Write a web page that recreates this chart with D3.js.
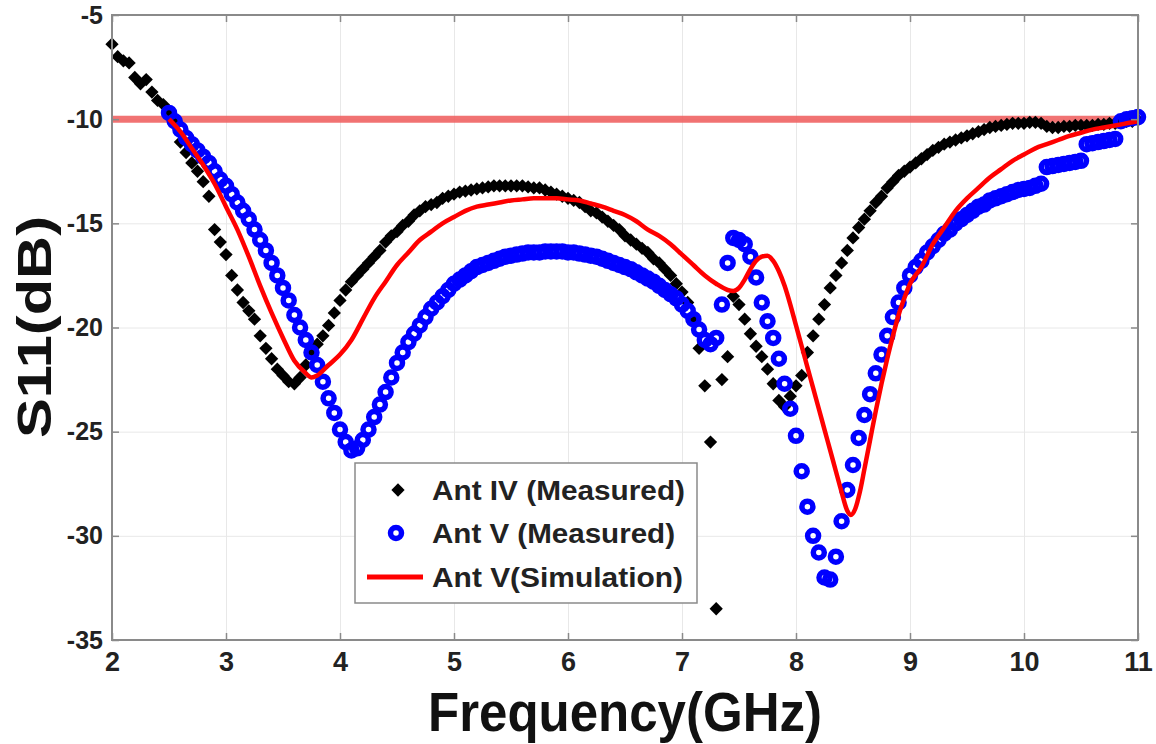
<!DOCTYPE html>
<html>
<head>
<meta charset="utf-8">
<script src="https://cdn.jsdelivr.net/npm/d3@7"></script>
<style>
  html, body { margin: 0; padding: 0; background: #fff; }
  svg { display: block; font-family: "Liberation Sans", Arial, sans-serif; }
</style>
</head>
<body>
<svg id="chart" width="1156" height="744"></svg>
<script>
// ---------------- data ----------------
const xTicks = [2, 3, 4, 5, 6, 7, 8, 9, 10, 11];
const yTicks = [-35, -30, -25, -20, -15, -10, -5];
const threshold = -10;

// measurement frequency grid (GHz)
const freq = [
  2.00,2.05,2.10,2.15,2.20,2.25,2.30,2.35,2.40,2.45,2.50,2.55,2.60,2.65,2.70,2.75,2.80,2.85,2.90,2.95,
  3.00,3.05,3.10,3.15,3.20,3.25,3.30,3.35,3.40,3.45,3.50,3.55,3.60,3.65,3.70,3.75,3.80,3.85,3.90,3.95,
  4.00,4.05,4.10,4.15,4.20,4.25,4.30,4.35,4.40,4.45,4.50,4.55,4.60,4.65,4.70,4.75,4.80,4.85,4.90,4.95,
  5.00,5.05,5.10,5.15,5.20,5.25,5.30,5.35,5.40,5.45,5.50,5.55,5.60,5.65,5.70,5.75,5.80,5.85,5.90,5.95,
  6.00,6.05,6.10,6.15,6.20,6.25,6.30,6.35,6.40,6.45,6.50,6.55,6.60,6.65,6.70,6.75,6.80,6.85,6.90,6.95,
  7.00,7.05,7.10,7.15,7.20,7.25,7.30,7.35,7.40,7.45,7.50,7.55,7.60,7.65,7.70,7.75,7.80,7.85,7.90,7.95,
  8.00,8.05,8.10,8.15,8.20,8.25,8.30,8.35,8.40,8.45,8.50,8.55,8.60,8.65,8.70,8.75,8.80,8.85,8.90,8.95,
  9.00,9.05,9.10,9.15,9.20,9.25,9.30,9.35,9.40,9.45,9.50,9.55,9.60,9.65,9.70,9.75,9.80,9.85,9.90,9.95,
  10.00,10.05,10.10,10.15,10.20,10.25,10.30,10.35,10.40,10.45,10.50,10.55,10.60,10.65,10.70,10.75,10.80,10.85,10.90,10.95,
  11.00
];

// Ant IV (Measured), 2.00 - 11.00 GHz
const antIV = [
  -6.4,-7.0,-7.2,-7.3,-8.0,-8.3,-8.1,-8.7,-9.1,-9.3,-9.6,-10.1,-11.1,-11.6,-12.1,-12.5,-13.0,-13.7,-15.3,-15.9,
  -16.5,-17.5,-18.2,-18.8,-19.2,-19.6,-20.4,-21.0,-21.5,-22.0,-22.3,-22.6,-22.7,-22.4,-21.8,-21.2,-20.8,-20.4,-19.9,-19.3,
  -18.7,-18.2,-17.8,-17.5,-17.2,-16.9,-16.6,-16.3,-15.9,-15.6,-15.4,-15.1,-14.9,-14.6,-14.4,-14.2,-14.1,-14.0,-13.8,-13.7,
  -13.6,-13.5,-13.45,-13.4,-13.35,-13.3,-13.25,-13.2,-13.2,-13.2,-13.2,-13.2,-13.2,-13.25,-13.3,-13.3,-13.4,-13.5,-13.6,-13.7,
  -13.8,-13.9,-14.0,-14.2,-14.4,-14.5,-14.7,-14.9,-15.1,-15.3,-15.6,-15.8,-16.0,-16.2,-16.4,-16.7,-16.9,-17.2,-17.5,-17.9,
  -18.3,-18.8,-19.6,-21.0,-22.8,-25.5,-33.5,-22.5,-21.4,-18.5,-18.9,-19.6,-20.3,-20.9,-21.4,-22.0,-22.7,-23.5,-23.8,-23.3,
  -22.8,-22.3,-21.2,-20.4,-19.6,-18.9,-18.1,-17.5,-16.9,-16.3,-15.7,-15.2,-14.8,-14.4,-14.0,-13.7,-13.3,-13.0,-12.7,-12.5,
  -12.3,-12.1,-11.9,-11.7,-11.5,-11.35,-11.2,-11.1,-11.0,-10.9,-10.8,-10.7,-10.6,-10.5,-10.4,-10.35,-10.3,-10.25,-10.2,-10.2,
  -10.2,-10.15,-10.15,-10.2,-10.35,-10.4,-10.4,-10.35,-10.35,-10.3,-10.3,-10.3,-10.3,-10.25,-10.25,-10.2,-10.2,-10.15,-10.1,-10.1,
  -10.05
];

// Ant V (Measured), 2.50 - 11.00 GHz
const antVFreq = freq.slice(10);
const antV = [
  -9.7,-10.1,-10.5,-10.9,-11.2,-11.5,-11.8,-12.1,-12.5,-12.9,
  -13.2,-13.6,-14.0,-14.4,-14.8,-15.3,-15.8,-16.3,-16.9,-17.5,-18.1,-18.7,-19.4,-20.0,-20.6,-21.2,-21.8,-22.6,-23.4,-24.1,
  -24.9,-25.5,-25.9,-25.8,-25.4,-24.9,-24.3,-23.7,-23.1,-22.4,-21.7,-21.2,-20.7,-20.3,-19.9,-19.5,-19.1,-18.8,-18.5,-18.2,
  -17.9,-17.7,-17.5,-17.3,-17.1,-17.0,-16.9,-16.8,-16.7,-16.6,-16.55,-16.5,-16.45,-16.4,-16.4,-16.4,-16.35,-16.35,-16.35,-16.35,
  -16.4,-16.4,-16.45,-16.5,-16.55,-16.6,-16.7,-16.8,-16.9,-17.0,-17.1,-17.2,-17.35,-17.5,-17.65,-17.8,-18.0,-18.2,-18.4,-18.6,
  -18.9,-19.2,-19.6,-20.1,-20.6,-20.8,-20.5,-18.9,-16.9,-15.7,-15.8,-16.0,-16.6,-17.6,-18.8,-19.7,-20.5,-21.5,-22.7,-23.9,
  -25.2,-26.9,-28.6,-30.0,-30.8,-32.0,-32.1,-31.0,-29.3,-27.8,-26.6,-25.3,-24.2,-23.2,-22.2,-21.3,-20.4,-19.5,-18.8,-18.1,
  -17.5,-17.1,-16.8,-16.4,-16.1,-15.8,-15.5,-15.3,-15.0,-14.8,-14.6,-14.4,-14.2,-14.1,-13.9,-13.8,-13.7,-13.6,-13.5,-13.4,
  -13.35,-13.3,-13.2,-13.1,-12.3,-12.25,-12.2,-12.15,-12.1,-12.05,-12.0,-11.2,-11.15,-11.1,-11.05,-11.0,-10.95,-10.1,-10.0,-9.95,
  -9.9
];

// Ant V (Simulation)
const simFreq = [
  2.50,2.60,2.70,2.80,2.90,3.00,3.10,3.20,3.30,3.40,3.50,3.60,3.70,3.75,3.80,3.90,4.00,4.10,4.20,4.30,
  4.40,4.50,4.60,4.70,4.80,4.90,5.00,5.10,5.20,5.30,5.40,5.50,5.60,5.70,5.80,5.90,6.00,6.10,6.20,6.30,
  6.40,6.50,6.60,6.70,6.80,6.90,7.00,7.10,7.20,7.30,7.40,7.45,7.50,7.55,7.60,7.65,7.70,7.75,7.80,7.85,
  7.90,7.95,8.00,8.05,8.10,8.15,8.20,8.25,8.30,8.35,8.40,8.45,8.48,8.52,8.56,8.60,8.65,8.70,8.75,8.80,
  8.85,8.90,8.95,9.00,9.10,9.20,9.30,9.40,9.50,9.60,9.70,9.80,9.90,10.00,10.10,10.20,10.30,10.40,10.50,10.60,
  10.70,10.80,10.90,11.00
];
const simV = [
  -10.0,-10.6,-11.4,-12.2,-13.1,-14.2,-15.3,-16.6,-18.0,-19.3,-20.5,-21.6,-22.2,-22.4,-22.3,-21.8,-21.3,-20.6,-19.6,-18.6,
  -17.8,-17.0,-16.4,-15.8,-15.4,-15.0,-14.7,-14.4,-14.2,-14.1,-14.0,-13.9,-13.85,-13.8,-13.8,-13.8,-13.85,-13.9,-14.05,-14.2,
  -14.4,-14.6,-14.9,-15.3,-15.6,-16.0,-16.5,-17.0,-17.5,-17.9,-18.2,-18.25,-18.1,-17.7,-17.2,-16.8,-16.6,-16.55,-16.8,-17.3,
  -18.0,-18.9,-19.9,-20.9,-21.9,-22.9,-23.9,-24.9,-25.9,-26.9,-27.9,-28.8,-29.0,-28.7,-27.9,-26.8,-25.4,-24.0,-22.7,-21.5,
  -20.4,-19.4,-18.6,-17.9,-17.1,-16.0,-15.2,-14.4,-13.8,-13.3,-12.8,-12.4,-12.0,-11.7,-11.4,-11.2,-11.0,-10.8,-10.65,-10.5,
  -10.4,-10.3,-10.2,-10.1
];

const legendLabels = ["Ant IV (Measured)", "Ant V (Measured)", "Ant V(Simulation)"];

// ---------------- drawing ----------------
const svg = d3.select("#chart");
const L = 112, R = 1138, T = 15, B = 640;
const x = d3.scaleLinear().domain([2, 11]).range([L, R]);
const y = d3.scaleLinear().domain([-35, -5]).range([B, T]);
const fmt = d => String(d);   // plain hyphen-minus like the reference

// grid
svg.append("g").attr("transform", `translate(0,${B})`)
  .call(d3.axisBottom(x).tickValues(xTicks).tickSize(-(B - T)).tickFormat(""))
  .call(g => g.select(".domain").remove())
  .call(g => g.selectAll("line").attr("stroke", "#e8e8e8").attr("stroke-width", 1));
svg.append("g").attr("transform", `translate(${L},0)`)
  .call(d3.axisLeft(y).tickValues(yTicks).tickSize(-(R - L)).tickFormat(""))
  .call(g => g.select(".domain").remove())
  .call(g => g.selectAll("line").attr("stroke", "#e8e8e8").attr("stroke-width", 1));

// -10 dB reference line
svg.append("line")
  .attr("x1", x(2)).attr("x2", x(11))
  .attr("y1", y(threshold)).attr("y2", y(threshold))
  .attr("stroke", "#f06464").attr("stroke-width", 7).attr("opacity", 0.9);

// Ant IV measured: black diamonds
const diamond = d3.symbol().type(d3.symbolSquare).size(88);
svg.append("g").selectAll("path")
  .data(freq.map((f, i) => [f, antIV[i]]))
  .join("path")
  .attr("d", diamond)
  .attr("transform", d => `translate(${x(d[0])},${y(d[1])}) rotate(45)`)
  .attr("fill", "#000");

// Ant V measured: blue circles
svg.append("g").selectAll("circle")
  .data(antVFreq.map((f, i) => [f, antV[i]]))
  .join("circle")
  .attr("cx", d => x(d[0])).attr("cy", d => y(d[1]))
  .attr("r", 5.5)
  .attr("fill", "none")
  .attr("stroke", "#0000ff").attr("stroke-width", 5.5);

// Ant V simulation: red line
const line = d3.line().x(d => x(d[0])).y(d => y(d[1])).curve(d3.curveMonotoneX);
svg.append("path")
  .datum(simFreq.map((f, i) => [f, simV[i]]))
  .attr("d", line)
  .attr("fill", "none").attr("stroke", "#ff0000").attr("stroke-width", 4.5)
  .attr("stroke-linejoin", "round");

// frame
svg.append("rect").attr("x", L).attr("y", T).attr("width", R - L).attr("height", B - T)
  .attr("fill", "none").attr("stroke", "#8a8a8a").attr("stroke-width", 2);

// axes (inward ticks)
const axisStyle = g => {
  g.select(".domain").remove();
  g.selectAll("line").attr("stroke", "#8a8a8a").attr("stroke-width", 1.5);
};
svg.append("g").attr("transform", `translate(0,${B})`)
  .call(d3.axisBottom(x).tickValues(xTicks).tickSize(-7).tickPadding(12).tickFormat(fmt))
  .call(axisStyle)
  .call(g => g.selectAll("text").attr("font-size", 27).attr("font-weight", "bold").attr("fill", "#222")
    .attr("font-family", "Liberation Sans, Arial, sans-serif"));
svg.append("g").attr("transform", `translate(0,${T})`)
  .call(d3.axisTop(x).tickValues(xTicks).tickSize(-7).tickFormat(""))
  .call(axisStyle);
svg.append("g").attr("transform", `translate(${L},0)`)
  .call(d3.axisLeft(y).tickValues(yTicks).tickSize(-7).tickPadding(9).tickFormat(fmt))
  .call(axisStyle)
  .call(g => g.selectAll("text").attr("font-size", 25).attr("font-weight", "bold").attr("fill", "#222")
    .attr("font-family", "Liberation Sans, Arial, sans-serif"));
svg.append("g").attr("transform", `translate(${R},0)`)
  .call(d3.axisRight(y).tickValues(yTicks).tickSize(-7).tickFormat(""))
  .call(axisStyle);

// axis titles
svg.append("text")
  .attr("x", 625).attr("y", 731)
  .attr("text-anchor", "middle")
  .attr("font-size", 55).attr("font-weight", "bold").attr("fill", "#111")
  .attr("textLength", 394).attr("lengthAdjust", "spacingAndGlyphs")
  .text("Frequency(GHz)");
svg.append("text")
  .attr("transform", "translate(51,327) rotate(-90)")
  .attr("text-anchor", "middle")
  .attr("font-size", 49).attr("font-weight", "bold").attr("fill", "#111")
  .attr("textLength", 222).attr("lengthAdjust", "spacingAndGlyphs")
  .text("S11(dB)");

// legend
const lg = svg.append("g");
lg.append("rect").attr("x", 355).attr("y", 463).attr("width", 342).attr("height", 140)
  .attr("fill", "#fff").attr("stroke", "#8a8a8a").attr("stroke-width", 1.5);
const rowsY = [490, 533, 577];
lg.append("path").attr("d", diamond)
  .attr("transform", `translate(398,${rowsY[0]}) rotate(45)`).attr("fill", "#000");
lg.append("circle").attr("cx", 396).attr("cy", rowsY[1]).attr("r", 5.5)
  .attr("fill", "none").attr("stroke", "#0000ff").attr("stroke-width", 5.5);
lg.append("line").attr("x1", 367).attr("x2", 423).attr("y1", rowsY[2]).attr("y2", rowsY[2])
  .attr("stroke", "#ff0000").attr("stroke-width", 5);
const textLens = [253, 243, 251];
legendLabels.forEach((t, i) => {
  lg.append("text").attr("x", 432).attr("y", rowsY[i] + 10)
    .attr("font-size", 28).attr("font-weight", "bold").attr("fill", "#222")
    .attr("textLength", textLens[i]).attr("lengthAdjust", "spacingAndGlyphs")
    .text(t);
});
</script>
</body>
</html>
